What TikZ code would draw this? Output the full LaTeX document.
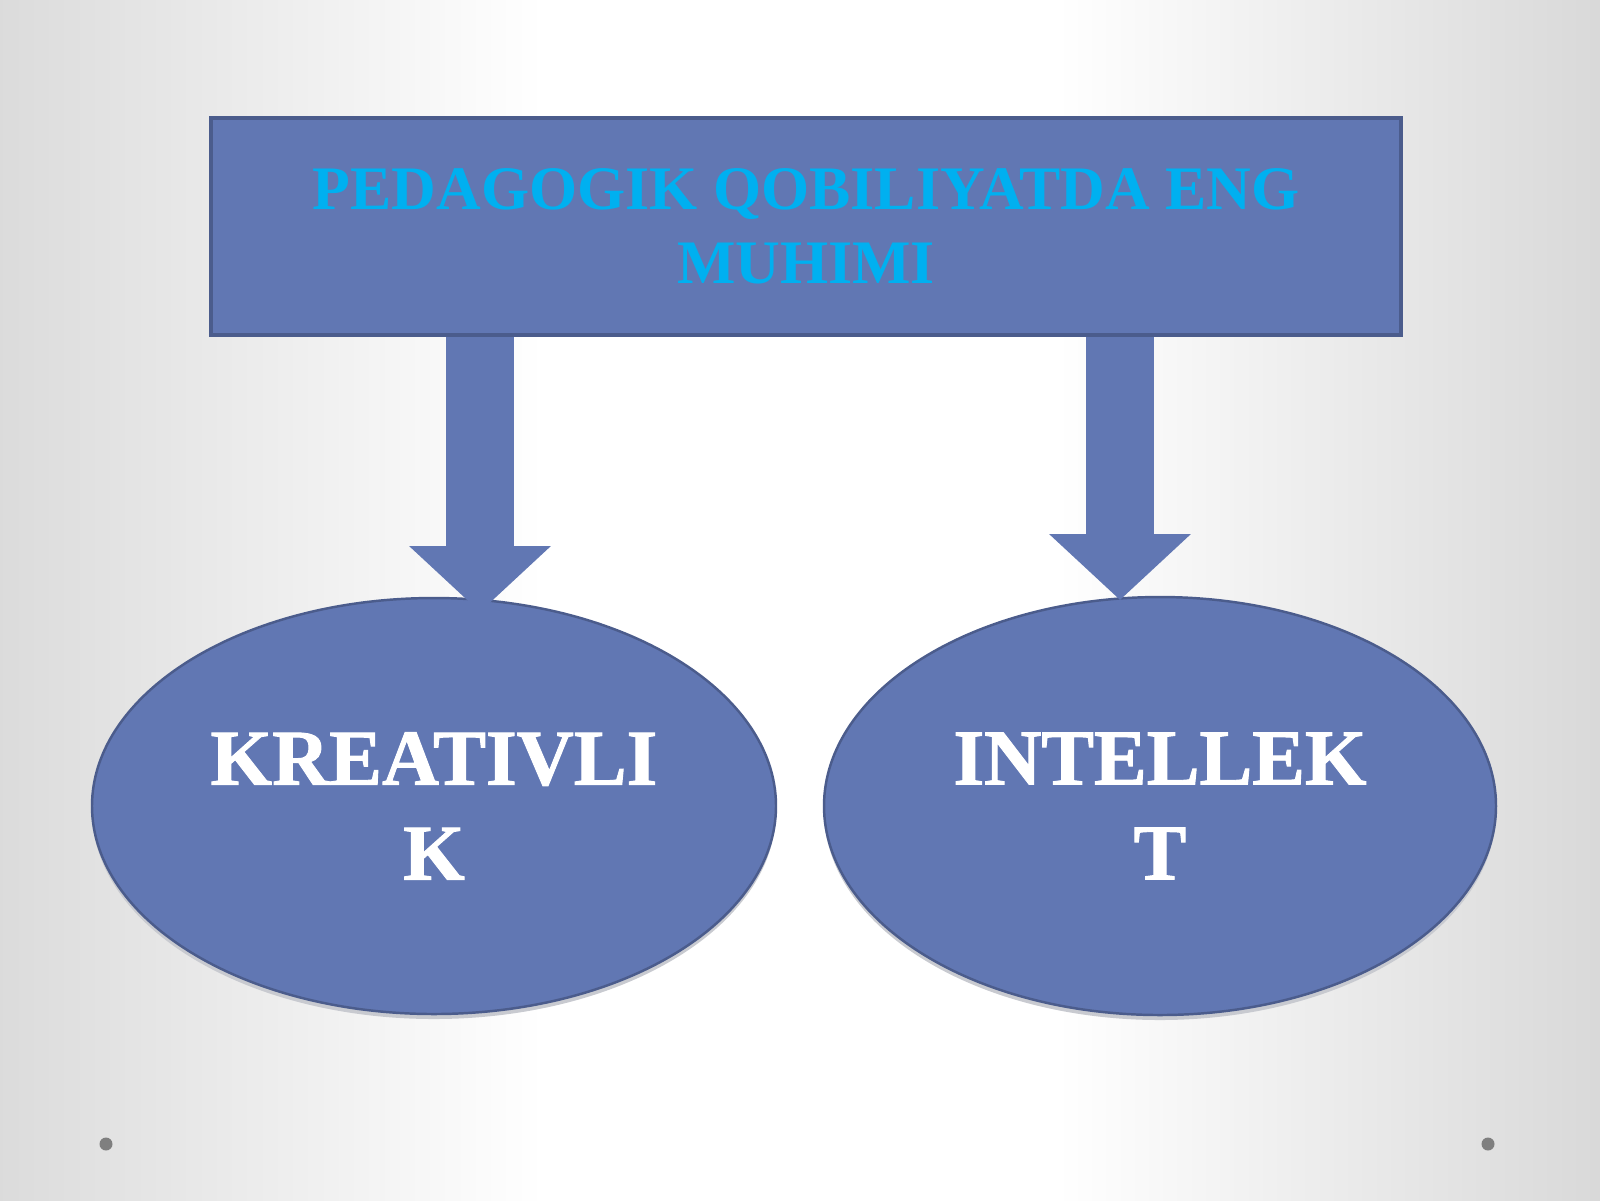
\documentclass[tikz,border=0pt]{standalone}
\usepackage{fontspec}
\usetikzlibrary{arrows.meta, shapes.geometric}
\setmainfont{Liberation Serif}
\newfontfamily\ovalfont[FakeBold=1.2]{Liberation Serif Bold}
\definecolor{boxblue}{HTML}{6177B3}
\definecolor{boxedge}{HTML}{4B5C8C}
\definecolor{headcyan}{HTML}{00B0F0}
\definecolor{dotgray}{HTML}{7F7F7F}
\definecolor{shadowgray}{HTML}{C8CAD0}
\pgfdeclarehorizontalshading{slidebg}{100bp}{color(0bp)=(black!15); color(25bp)=(black!14); color(42bp)=(white); color(58bp)=(white); color(75bp)=(black!15); color(100bp)=(black!15)}
\tikzset{
  headbox/.style = {draw=boxedge, line width=0.9pt, fill=boxblue, minimum width=11.9cm,
    minimum height=2.17cm, inner sep=0pt, align=center, text=headcyan,
    font=\bfseries\fontsize{17.6}{21}\selectfont},
  oval/.style = {ellipse, draw=boxedge, line width=0.7pt, fill=boxblue, inner sep=0pt,
    align=center, text=white, font=\ovalfont\fontsize{22.5}{27}\selectfont},
  ovalshadow/.style = {ellipse, fill=shadowgray, inner sep=0pt},
  blockarrow/.style = {draw=boxblue, line width=0.68cm,
    -{Triangle[width=1.38cm, length=0.66cm]}}
}
\begin{document}
\begin{tikzpicture}
\useasboundingbox (0,0) rectangle (16,-12);
\shade[shading=slidebg] (0,0) rectangle (16,-12);
\node (head) at (8.06,-2.265) [headbox] {PEDAGOGIK QOBILIYATDA ENG\\MUHIMI};
% soft shadows under the ovals
\node (kreativshadow) at (4.34,-8.11) [ovalshadow, minimum width=6.84cm, minimum height=4.16cm] {};
\node (intelshadow) at (11.60,-8.11) [ovalshadow, minimum width=6.72cm, minimum height=4.18cm] {};
\node (kreativ) at (4.34,-8.06) [oval, minimum width=6.84cm, minimum height=4.16cm] {KREATIVLI\\K};
\node (intel) at (11.60,-8.06) [oval, minimum width=6.72cm, minimum height=4.18cm] {INTELLEK\\T};
\coordinate (lefttip) at (4.80,-6.12);
\coordinate (righttip) at (11.20,-6.00);
\draw [blockarrow] (head.south -| lefttip) -- (lefttip);
\draw [blockarrow] (head.south -| righttip) -- (righttip);
\fill [dotgray] (1.06,-11.44) circle (0.065);
\fill [dotgray] (14.88,-11.44) circle (0.065);
\end{tikzpicture}
\end{document}
